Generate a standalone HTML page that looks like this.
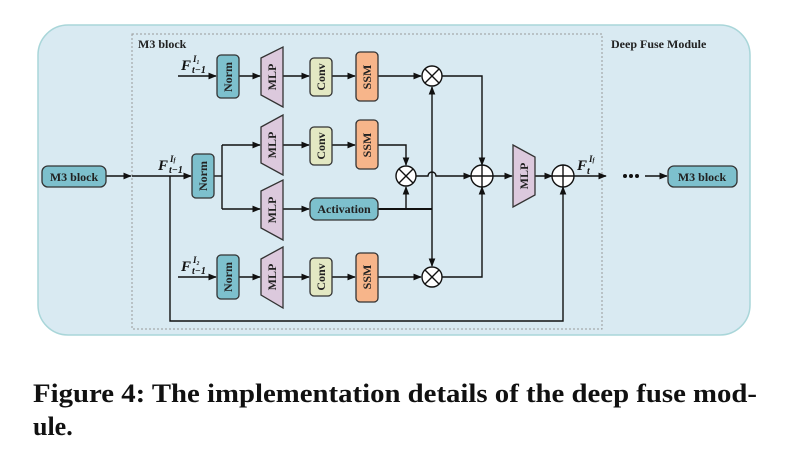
<!DOCTYPE html>
<html><head><meta charset="utf-8"><style>
html,body{margin:0;padding:0;background:#fff;width:786px;height:468px;overflow:hidden}
svg{display:block}
.bx{stroke:#333;stroke-width:1.3}
.t{font-family:"Liberation Serif",serif;font-weight:bold;font-size:12px;fill:#222}
.ln{stroke:#111;stroke-width:1.4;fill:none}
.F{font-family:"Liberation Serif",serif;font-weight:bold;font-style:italic;fill:#111}
</style></head><body>
<svg width="786" height="468" viewBox="0 0 786 468">
<defs><marker id="a" viewBox="0 0 10 10" refX="9" refY="5" markerWidth="6" markerHeight="6" orient="auto"><path d="M0,1 L10,5 L0,9 z" fill="#111"/></marker></defs>
<rect x="38" y="25" width="712" height="310" rx="30" fill="#d9eaf2" stroke="#a9d6d9" stroke-width="1.5"/>
<rect x="132" y="34" width="470" height="295" fill="none" stroke="#999" stroke-dasharray="2,2"/>
<text x="138" y="48" class="t" font-size="11">M3 block</text>
<text x="611" y="48" class="t" font-size="13">Deep Fuse Module</text>

<g class="ln">
<line x1="178" y1="76" x2="216" y2="76" marker-end="url(#a)"/>
<line x1="239" y1="76" x2="260" y2="76" marker-end="url(#a)"/>
<line x1="283" y1="76" x2="309" y2="76" marker-end="url(#a)"/>
<line x1="332" y1="76" x2="355" y2="76" marker-end="url(#a)"/>
<line x1="378" y1="76" x2="421" y2="76" marker-end="url(#a)"/>
<polyline points="442,76 482,76 482,165" marker-end="url(#a)"/>
<line x1="132" y1="176" x2="191" y2="176" marker-end="url(#a)"/>
<line x1="214" y1="176" x2="222" y2="176"/>
<polyline points="222,145 222,209"/>
<line x1="222" y1="145" x2="260" y2="145" marker-end="url(#a)"/>
<line x1="222" y1="209" x2="260" y2="209" marker-end="url(#a)"/>
<line x1="283" y1="145" x2="309" y2="145" marker-end="url(#a)"/>
<line x1="332" y1="145" x2="355" y2="145" marker-end="url(#a)"/>
<polyline points="378,145 406,145 406,165" marker-end="url(#a)"/>
<line x1="283" y1="209" x2="309" y2="209" marker-end="url(#a)"/>
<line x1="378" y1="209" x2="432" y2="209" stroke-width="2"/>
<line x1="406" y1="209" x2="406" y2="187" marker-end="url(#a)"/>
<line x1="432" y1="209" x2="432" y2="87" marker-end="url(#a)"/>
<line x1="432" y1="209" x2="432" y2="266" marker-end="url(#a)"/>
<path d="M416,176 H428 A4,4 0 0 1 436,176 H471" marker-end="url(#a)"/>
<line x1="493" y1="176" x2="512" y2="176" marker-end="url(#a)"/>
<line x1="535" y1="176" x2="552" y2="176" marker-end="url(#a)"/>
<line x1="574" y1="176" x2="606" y2="176" marker-end="url(#a)"/>
<line x1="645" y1="176" x2="667" y2="176" marker-end="url(#a)"/>
<line x1="106" y1="176" x2="131" y2="176" marker-end="url(#a)"/>
<polyline points="170,176 170,321 563,321 563,187" marker-end="url(#a)"/>
<line x1="178" y1="277" x2="216" y2="277" marker-end="url(#a)"/>
<line x1="239" y1="277" x2="260" y2="277" marker-end="url(#a)"/>
<line x1="283" y1="277" x2="309" y2="277" marker-end="url(#a)"/>
<line x1="332" y1="277" x2="355" y2="277" marker-end="url(#a)"/>
<line x1="378" y1="277" x2="421" y2="277" marker-end="url(#a)"/>
<polyline points="442,277 482,277 482,187" marker-end="url(#a)"/>
</g>
<g fill="#111"><circle cx="625" cy="176" r="2"/><circle cx="631" cy="176" r="2"/><circle cx="637" cy="176" r="2"/></g>

<g class="bx">
<rect x="217" y="55" width="22" height="43" rx="4" fill="#7dc0cd"/>
<rect x="192" y="154" width="22" height="44" rx="4" fill="#7dc0cd"/>
<rect x="217" y="255" width="22" height="44" rx="4" fill="#7dc0cd"/>
<polygon points="261,58 283,47 283,107 261,95" fill="#dcc9dd"/>
<polygon points="261,127 283,115 283,175 261,163" fill="#dcc9dd"/>
<polygon points="261,191 283,180 283,240 261,228" fill="#dcc9dd"/>
<polygon points="261,259 283,247 283,308 261,295" fill="#dcc9dd"/>
<polygon points="513,145 535,157 535,195 513,207" fill="#dcc9dd"/>
<rect x="310" y="58" width="22" height="38" rx="4" fill="#e3e8c3"/>
<rect x="310" y="127" width="22" height="38" rx="4" fill="#e3e8c3"/>
<rect x="310" y="258" width="22" height="38" rx="4" fill="#e3e8c3"/>
<rect x="356" y="52" width="22" height="49" rx="4" fill="#f7b58a"/>
<rect x="356" y="120" width="22" height="49" rx="4" fill="#f7b58a"/>
<rect x="356" y="253" width="22" height="49" rx="4" fill="#f7b58a"/>
<rect x="310" y="198" width="68" height="22" rx="6" fill="#7dc0cd"/>
<rect x="42" y="166" width="64" height="21" rx="6" fill="#7dc0cd"/>
<rect x="668" y="166" width="69" height="21" rx="6" fill="#7dc0cd"/>
</g>
<g class="t" text-anchor="middle">
<text transform="translate(232,77) rotate(-90)">Norm</text>
<text transform="translate(207,176) rotate(-90)">Norm</text>
<text transform="translate(232,277) rotate(-90)">Norm</text>
<text transform="translate(276,77) rotate(-90)">MLP</text>
<text transform="translate(276,145) rotate(-90)">MLP</text>
<text transform="translate(276,210) rotate(-90)">MLP</text>
<text transform="translate(276,277) rotate(-90)">MLP</text>
<text transform="translate(528,176) rotate(-90)">MLP</text>
<text transform="translate(325,77) rotate(-90)">Conv</text>
<text transform="translate(325,146) rotate(-90)">Conv</text>
<text transform="translate(325,277) rotate(-90)">Conv</text>
<text transform="translate(371,77) rotate(-90)">SSM</text>
<text transform="translate(371,145) rotate(-90)">SSM</text>
<text transform="translate(371,277) rotate(-90)">SSM</text>
<text x="344" y="213">Activation</text>
<text x="74" y="181">M3 block</text>
<text x="702" y="181">M3 block</text>
</g>
<g stroke="#111" stroke-width="1.4" fill="#fff">
<circle cx="432" cy="76" r="10"/><path d="M425,69 L439,83 M439,69 L425,83"/>
<circle cx="406" cy="176" r="10"/><path d="M399,169 L413,183 M413,169 L399,183"/>
<circle cx="432" cy="277" r="10"/><path d="M425,270 L439,284 M439,270 L425,284"/>
<circle cx="482" cy="176" r="11"/><path d="M471,176 H493 M482,165 V187"/>
<circle cx="563" cy="176" r="11"/><path d="M552,176 H574 M563,165 V187"/>
</g>
<g class="F">
<text x="181" y="70" font-size="15">F</text><text x="192" y="73" font-size="10">t−1</text><text x="193" y="62" font-size="9">I₁</text>
<text x="158" y="170" font-size="15">F</text><text x="169" y="173" font-size="10">t−1</text><text x="170" y="162" font-size="9">I<tspan font-size="6">f</tspan></text>
<text x="181" y="271" font-size="15">F</text><text x="192" y="274" font-size="10">t−1</text><text x="193" y="263" font-size="9">I₂</text>
<text x="577" y="170" font-size="15">F</text><text x="587" y="174" font-size="10">t</text><text x="589" y="162" font-size="9">I<tspan font-size="6">f</tspan></text>
</g>
<g font-family="Liberation Serif" font-weight="bold" font-size="26" fill="#111">
<text x="33" y="402" textLength="724" lengthAdjust="spacingAndGlyphs">Figure 4: The implementation details of the deep fuse mod-</text>
<text x="33" y="435">ule.</text>
</g>
</svg>
</body></html>
